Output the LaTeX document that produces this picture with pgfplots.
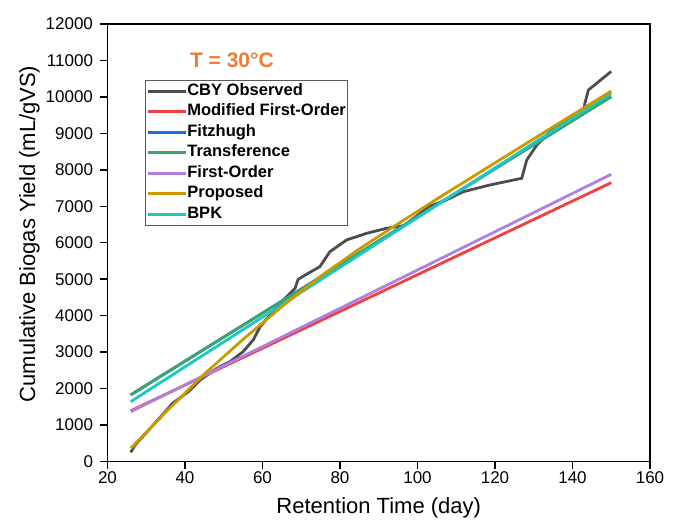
\documentclass[border=0pt]{standalone}
\usepackage{fontspec}
\setmainfont{Liberation Sans}
\usepackage{pgfplots}
\pgfplotsset{compat=1.18}
\definecolor{cby}{RGB}{77,77,77}
\definecolor{cred}{RGB}{240,64,64}
\definecolor{cblue}{RGB}{26,110,224}
\definecolor{cgreen}{RGB}{60,166,106}
\definecolor{cpurple}{RGB}{176,127,224}
\definecolor{cgold}{RGB}{204,153,0}
\definecolor{ccyan}{RGB}{27,199,199}
\definecolor{ctitle}{RGB}{237,125,49}
\begin{document}
\begin{tikzpicture}
\useasboundingbox (-107.5pt,-60.5pt) rectangle (574.5pt,461.5pt);
\begin{axis}[
  at={(0pt,0pt)}, anchor=south west, scale only axis,
  width=542.5pt, height=437.5pt,
  xmin=20, xmax=160, ymin=0, ymax=12000,
  xtick={20,40,...,160}, ytick={0,1000,...,12000},
  scaled y ticks=false, scaled x ticks=false,
  tick align=outside, tick pos=left, major tick length=7pt,
  axis line style={line width=1.5pt},
  every tick/.style={line width=1.5pt, black},
  /pgf/number format/assume math mode=true,
  /pgf/number format/1000 sep={},
  ticklabel style={font=\fontsize{17}{17}\selectfont},
  yticklabel style={xshift=-4pt},
  xlabel={Retention Time (day)},
  ylabel={Cumulative Biogas Yield (mL/gVS)},
  label style={font=\fontsize{22}{22}\selectfont},
  xlabel style={at={(axis description cs:0.5,-0.1063)}, anchor=center},
  ylabel style={at={(axis description cs:-0.1437,0.52)}, anchor=center},
  legend image code/.code={\draw[#1] (0pt,0pt) -- (38pt,0pt);},
  legend style={at={(axis description cs:0.069,0.872)}, anchor=north west,
    draw=black!65, line width=0.8pt, inner xsep=1pt, inner ysep=3pt,
    font=\bfseries\fontsize{16.5}{16.5}\selectfont,
    nodes={inner sep=0pt, text height=12pt, text depth=3.5pt},
    row sep=5pt,
    /tikz/every even column/.append style={column sep=4pt}},
  legend cell align=left,
]
\addlegendimage{cby, line width=3pt}
\addlegendimage{cred, line width=3pt}
\addlegendimage{cblue, line width=3pt}
\addlegendimage{cgreen, line width=3pt}
\addlegendimage{cpurple, line width=3pt}
\addlegendimage{cgold, line width=3pt}
\addlegendimage{ccyan, line width=3pt}
\legend{CBY Observed, Modified First-Order, Fitzhugh, Transference, First-Order, Proposed, BPK}

% CBY Observed
\addplot[cby, line width=2.8pt, forget plot] coordinates {
(26,250) (27.1,450) (31.8,1000) (35.7,1460) (36.6,1580) (40.9,1915) (43.9,2236)
(48.2,2556) (51.6,2738) (55.0,3012) (57.6,3333) (59.4,3698) (61.9,4018)
(65.4,4430) (68.4,4751) (69.2,4998) (71.8,5162) (74.8,5344) (77.4,5755)
(81.7,6076) (86.9,6259) (92.0,6396) (96.5,6470) (100,6750) (103,7000)
(107,7150) (111.8,7400) (118.7,7585) (126.9,7768) (128.2,8270) (130.8,8682)
(134.2,9047) (137.6,9321) (142.8,9550) (143.2,9826) (144.1,10190) (150,10700)
};
% Modified First-Order
\addplot[cred, line width=2.8pt, forget plot] coordinates {(26,1390) (150,7648)};
% Fitzhugh
\addplot[cblue, line width=2.8pt, forget plot] coordinates {(26,1830) (150,10010)};
% Transference
\addplot[cgreen, line width=2.8pt, forget plot] coordinates {(26,1824) (150,10007)};
% First-Order
\addplot[cpurple, line width=2.8pt, forget plot] coordinates {(26,1366) (150,7877)};
% BPK
\addplot[ccyan, line width=2.8pt, forget plot] coordinates {(26,1641) (150,10100)};
% Proposed
\addplot[cgold, line width=2.8pt, forget plot] coordinates {
(26,360) (35,1350) (45,2400) (55,3350) (65,4250) (75,5080) (85,5830)
(95,6520) (105,7200) (115,7860) (125,8520) (135,9180) (150,10160)
};

\node[font=\bfseries\fontsize{21}{21}\selectfont, text=ctitle] at (axis cs:52.1,11013) {T = 30°C};
\end{axis}
\end{tikzpicture}
\end{document}
